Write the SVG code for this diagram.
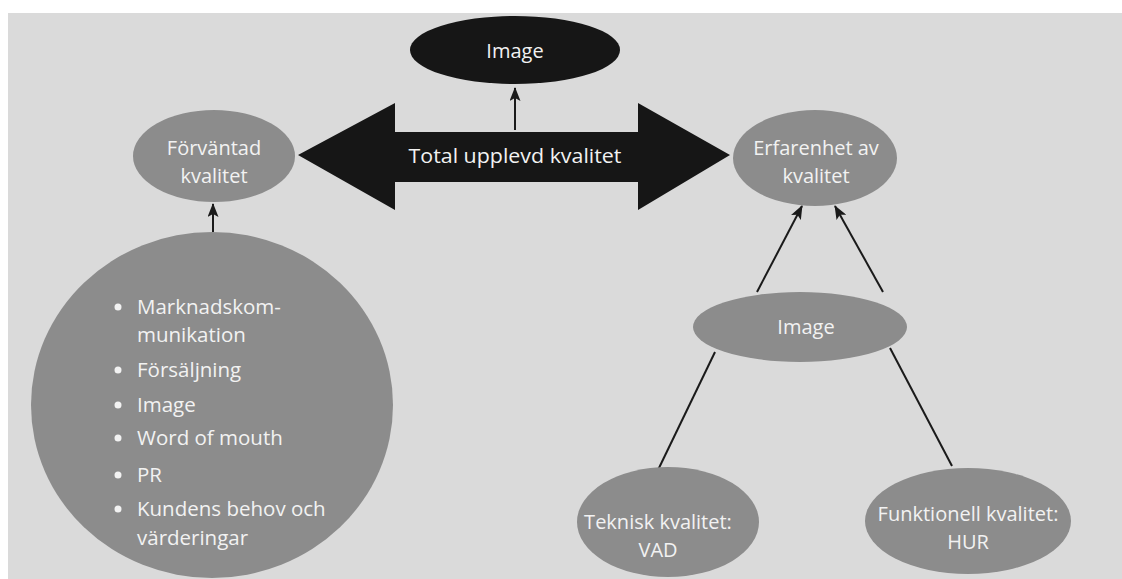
<svg xmlns="http://www.w3.org/2000/svg" width="1122" height="579" viewBox="0 0 1122 579">
<defs>
<style>
.node{fill:#8c8c8c;}
.dark{fill:#161616;}
.lbl{font-family:"Open Sans","Liberation Sans",sans-serif;fill:#f2f2f2;text-anchor:middle;font-size:20px;}
.lst{font-family:"Open Sans","Liberation Sans",sans-serif;fill:#f2f2f2;font-size:20.5px;}
.con{stroke:#1a1a1a;stroke-width:2;fill:none;}
</style>
<marker id="ah" viewBox="0 0 14 11" refX="13" refY="5.5" markerWidth="14" markerHeight="11" markerUnits="userSpaceOnUse" orient="auto">
<path d="M0,0 L14,5.5 L0,11 L3,5.5 Z" fill="#1a1a1a"/>
</marker>
</defs>
<rect x="0" y="0" width="1122" height="579" fill="#ffffff"/>
<rect x="8" y="13" width="1114" height="566" fill="#dadada"/>

<g id="connectors">
<line class="con" x1="515" y1="130" x2="515" y2="88" marker-end="url(#ah)"/>
<line class="con" x1="213" y1="232" x2="213" y2="204" marker-end="url(#ah)"/>
<line class="con" x1="757" y1="292" x2="802" y2="206" marker-end="url(#ah)"/>
<line class="con" x1="883" y1="292" x2="835" y2="206" marker-end="url(#ah)"/>
<line class="con" x1="715" y1="352" x2="658" y2="470"/>
<line class="con" x1="890" y1="348" x2="952" y2="466"/>
</g>

<g id="image-top">
<ellipse class="dark" cx="515" cy="50" rx="105" ry="34"/>
<text class="lbl" x="515" y="58">Image</text>
</g>

<g id="total">
<polygon class="dark" points="298,155 395,103 395,132 638,132 638,103 730,155 638,210 638,182 395,182 395,210"/>
<text class="lbl" x="515" y="163" font-size="21" textLength="213" lengthAdjust="spacingAndGlyphs">Total upplevd kvalitet</text>
</g>

<g id="forvantad">
<ellipse class="node" cx="214" cy="156" rx="81" ry="46"/>
<text class="lbl" x="214" y="155">Förväntad</text>
<text class="lbl" x="214" y="183">kvalitet</text>
</g>

<g id="faktorer">
<ellipse class="node" cx="212" cy="405" rx="181" ry="173"/>
<g fill="#f2f2f2">
<circle cx="118" cy="307" r="3.5"/>
<circle cx="118" cy="370" r="3.5"/>
<circle cx="118" cy="405" r="3.5"/>
<circle cx="118" cy="438" r="3.5"/>
<circle cx="118" cy="475" r="3.5"/>
<circle cx="118" cy="509" r="3.5"/>
</g>
<text class="lst" x="137" y="314">Marknadskom-</text>
<text class="lst" x="137" y="342">munikation</text>
<text class="lst" x="137" y="377">Försäljning</text>
<text class="lst" x="137" y="412">Image</text>
<text class="lst" x="137" y="445">Word of mouth</text>
<text class="lst" x="137" y="482">PR</text>
<text class="lst" x="137" y="516">Kundens behov och</text>
<text class="lst" x="137" y="545">värderingar</text>
</g>

<g id="erfarenhet">
<ellipse class="node" cx="815" cy="158" rx="82" ry="48"/>
<text class="lbl" x="816" y="155">Erfarenhet av</text>
<text class="lbl" x="816" y="183">kvalitet</text>
</g>

<g id="image-mid">
<ellipse class="node" cx="800" cy="327" rx="107" ry="35"/>
<text class="lbl" x="806" y="334">Image</text>
</g>

<g id="teknisk">
<ellipse class="node" cx="668" cy="522" rx="91" ry="55"/>
<text class="lbl" x="658" y="529">Teknisk kvalitet:</text>
<text class="lbl" x="658" y="557">VAD</text>
</g>

<g id="funktionell">
<ellipse class="node" cx="968" cy="521" rx="103" ry="53"/>
<text class="lbl" x="968" y="521">Funktionell kvalitet:</text>
<text class="lbl" x="968" y="549">HUR</text>
</g>
</svg>
